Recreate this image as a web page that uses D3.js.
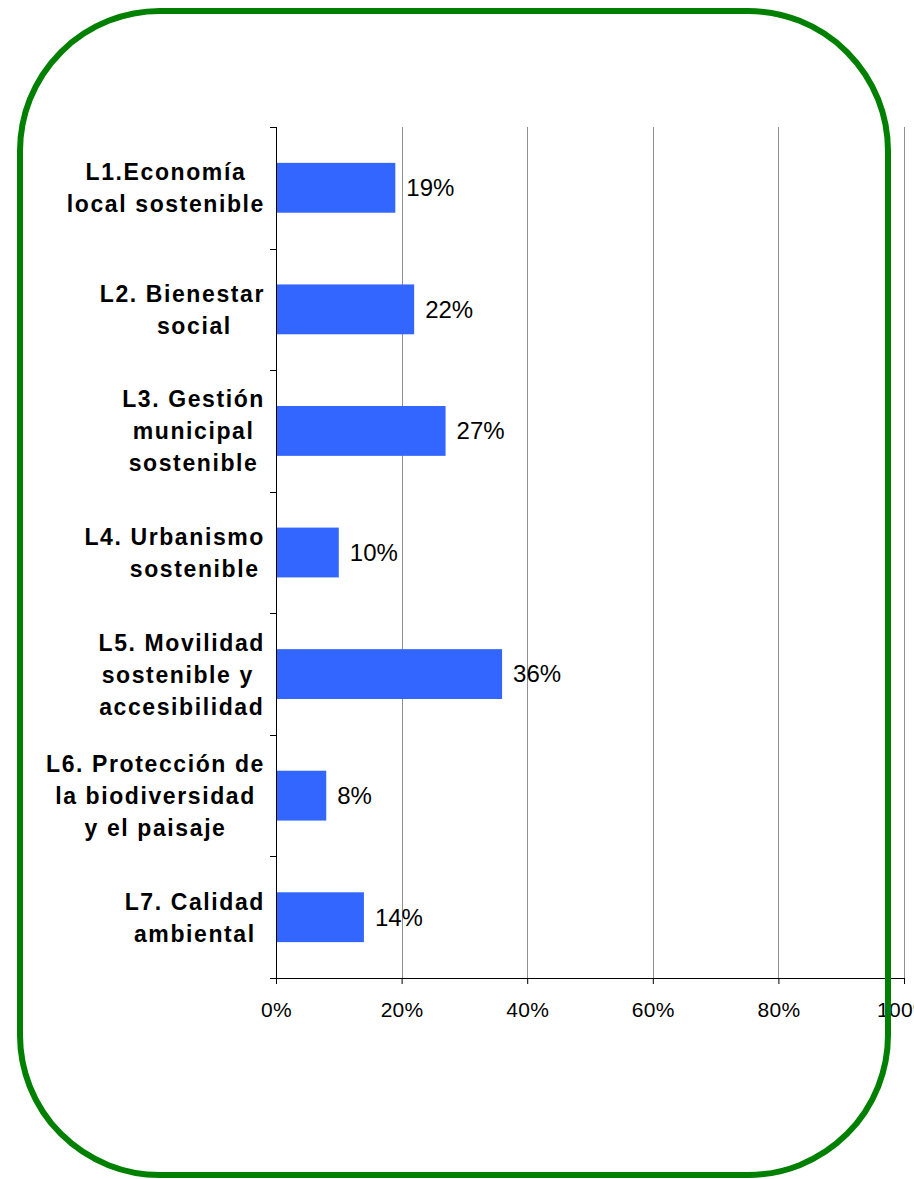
<!DOCTYPE html>
<html>
<head>
<meta charset="utf-8">
<script src="https://cdn.jsdelivr.net/npm/d3@7"></script>
<style>
  body { margin: 0; background: #fff; }
  svg { display: block; font-family: "Liberation Sans", Arial, sans-serif; }
</style>
</head>
<body>
<svg width="914" height="1179"></svg>
<script>
var categories = [
  ["L1.Economía", "local sostenible"],
  ["L2. Bienestar", "   social"],
  ["L3. Gestión", "municipal", "sostenible"],
  ["L4. Urbanismo", "     sostenible"],
  ["L5. Movilidad", "sostenible y ", "accesibilidad"],
  ["L6. Protección de", "la biodiversidad", "y el paisaje"],
  ["L7. Calidad", "ambiental"]
];
var values = [0.19, 0.22, 0.27, 0.10, 0.36, 0.08, 0.14];
var ticks = [0, 0.2, 0.4, 0.6, 0.8, 1];

var svg = d3.select("svg"),
    width = +svg.attr("width"),
    height = +svg.attr("height");

var x0 = 276, x1 = 904, plotTop = 127, plotBottom = 978;

var x = d3.scaleLinear().domain([0, 1]).range([x0, x1]);
var y = d3.scaleBand()
    .domain(d3.range(categories.length))
    .range([plotTop, plotBottom])
    .paddingInner(0.59)
    .paddingOuter(0.295);
var yb = d3.scaleBand().domain(d3.range(categories.length)).range([plotTop, plotBottom]);

var pct = d3.format(".0%");

// gridlines
svg.append("g").selectAll("line")
  .data(ticks.slice(1))
  .enter().append("line")
    .attr("x1", function(d) { return Math.round(x(d)) + 0.5; })
    .attr("x2", function(d) { return Math.round(x(d)) + 0.5; })
    .attr("y1", plotTop).attr("y2", plotBottom)
    .attr("stroke", "#909090").attr("stroke-width", 1);

// bars
svg.append("g").selectAll("rect")
  .data(values)
  .enter().append("rect")
    .attr("x", x0)
    .attr("y", function(d, i) { return y(i); })
    .attr("width", function(d) { return x(d) - x0; })
    .attr("height", y.bandwidth())
    .attr("fill", "#3366ff");

// value labels
svg.append("g").selectAll("text")
  .data(values)
  .enter().append("text")
    .attr("x", function(d) { return x(d) + 11; })
    .attr("y", function(d, i) { return y(i) + y.bandwidth() / 2; })
    .attr("dy", "0.35em")
    .style("font-size", "24px")
    .text(function(d) { return pct(d); });

// x axis
var xAxis = svg.append("g")
    .attr("transform", "translate(0," + plotBottom + ")")
    .call(d3.axisBottom(x).tickValues(ticks).tickFormat(pct).tickSize(6).tickSizeOuter(0));
xAxis.select(".domain").attr("stroke", "#000").attr("d", "M" + (x0 - 6) + ",0.5H" + x1);
xAxis.selectAll(".tick line").attr("stroke", "#000");
xAxis.selectAll(".tick text")
    .attr("y", 24)
    .style("font-size", "21px")
    .style("letter-spacing", "0.3px")
    .style("font-family", "'Liberation Sans', Arial, sans-serif")
    .attr("fill", "#000");

// y axis
var yAxis = svg.append("g")
    .attr("transform", "translate(" + x0 + ",0)")
    .call(d3.axisLeft(yb).tickValues([]).tickSizeOuter(0));
yAxis.select(".domain").attr("stroke", "#000").attr("d", "M0.5," + plotTop + "V" + plotBottom);
yAxis.selectAll(".tk")
  .data(d3.range(categories.length))
  .enter().append("line")
    .attr("x1", -6).attr("x2", 0)
    .attr("y1", function(d) { return Math.round(yb(d)) + 0.5; })
    .attr("y2", function(d) { return Math.round(yb(d)) + 0.5; })
    .attr("stroke", "#000");

// category labels, lines centered, block right-aligned
var lineH = 32;
var lab = svg.append("g").selectAll("g")
  .data(categories)
  .enter().append("g");
lab.each(function(lines, i) {
  var g = d3.select(this);
  var cy = yb(i) + yb.bandwidth() / 2;
  var t = g.selectAll("text").data(lines).enter().append("text")
      .attr("y", function(d, j) { return cy + (j - (lines.length - 1) / 2) * lineH; })
      .attr("dy", "0.37em")
      .style("font-size", "23px")
      .style("font-weight", "bold")
      .style("letter-spacing", "1.6px")
      .style("white-space", "pre")
      .attr("text-anchor", "middle")
      .text(function(d) { return d; });
  var w = d3.max(t.nodes(), function(n) { return n.getComputedTextLength(); });
  t.attr("x", 265 - w / 2);
});

// rounded border
svg.append("rect")
    .attr("x", 20).attr("y", 11)
    .attr("width", 868).attr("height", 1164)
    .attr("rx", 140).attr("ry", 140)
    .attr("fill", "none")
    .attr("stroke", "#008000")
    .attr("stroke-width", 6);
</script>
</body>
</html>
